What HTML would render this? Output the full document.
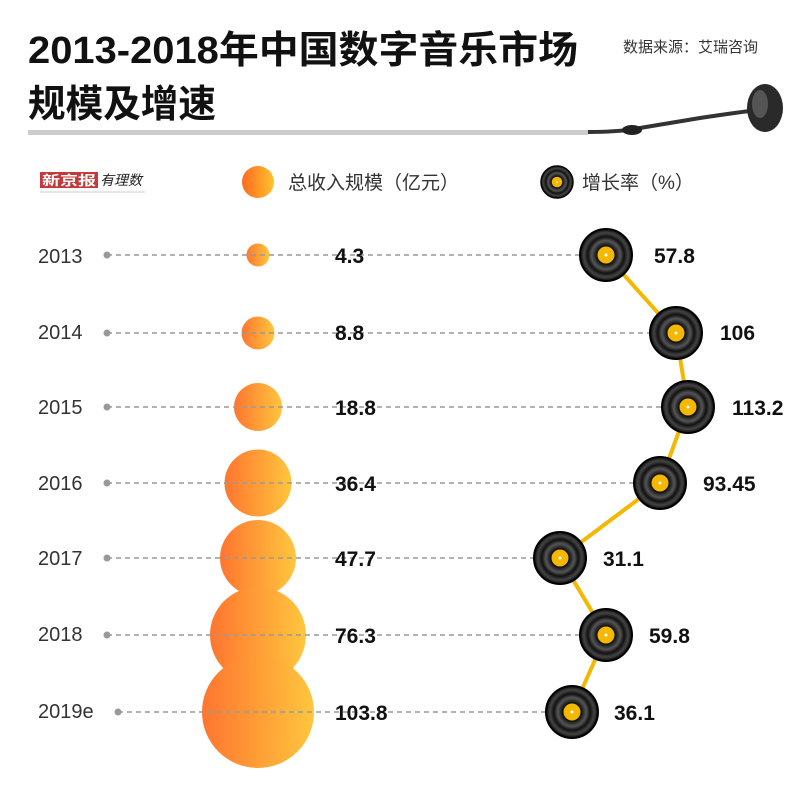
<!DOCTYPE html>
<html><head><meta charset="utf-8"><style>
body{margin:0;background:#fff;}
svg{display:block;font-family:"Liberation Sans","Noto Sans CJK SC",sans-serif;}
</style></head><body>
<svg width="800" height="786" viewBox="0 0 800 786" xmlns="http://www.w3.org/2000/svg">
<defs>
<linearGradient id="og" x1="0" x2="1" y1="0" y2="0">
<stop offset="0" stop-color="#ff6a1e"/><stop offset="1" stop-color="#ffc22e"/></linearGradient>
<radialGradient id="vinyl" cx="0.5" cy="0.5" r="0.5">
<stop offset="0.35" stop-color="#111"/><stop offset="0.55" stop-color="#555"/><stop offset="0.7" stop-color="#111"/><stop offset="0.85" stop-color="#444"/><stop offset="1" stop-color="#0a0a0a"/></radialGradient>
<g id="disc"><circle r="26" fill="url(#vinyl)"/><circle r="26" fill="none" stroke="#000" stroke-width="2"/><circle r="8.5" fill="#f5b800"/><circle r="1.5" fill="#fff"/></g>
</defs>
<text x="28" y="63" font-size="38" font-weight="bold" fill="#111" textLength="550" lengthAdjust="spacingAndGlyphs">2013-2018年中国数字音乐市场</text>
<text x="28" y="117" font-size="38" font-weight="bold" fill="#111" textLength="188" lengthAdjust="spacingAndGlyphs">规模及增速</text>
<text x="623" y="52" font-size="15" fill="#333">数据来源：艾瑞咨询</text>
<rect x="28" y="130" width="560" height="5" fill="#ccc"/>
<path d="M588 132 Q620 132 640 128 L700 118 Q740 112 758 110" stroke="#333" stroke-width="4" fill="none"/>
<ellipse cx="632" cy="130" rx="10" ry="5" fill="#222"/>
<ellipse cx="765" cy="108" rx="18" ry="24" fill="#2a2a2a"/>
<ellipse cx="760" cy="104" rx="8" ry="14" fill="#555"/>
<rect x="40" y="172" width="58" height="16" fill="#c23a3a"/>
<text x="42" y="185" font-size="13" fill="#fff" font-weight="bold" textLength="54" lengthAdjust="spacingAndGlyphs">新京报</text>
<text x="100" y="185" font-size="14" fill="#222" font-style="italic">有理数</text>
<line x1="40" y1="192" x2="145" y2="192" stroke="#ccc"/>
<circle cx="258" cy="182" r="16" fill="url(#og)"/>
<text x="288" y="189" font-size="19" fill="#333">总收入规模（亿元）</text>
<use href="#disc" transform="translate(557,182) scale(0.62)"/>
<text x="582" y="189" font-size="19" fill="#333">增长率（%）</text>
<g font-size="20" fill="#333">
<text x="38" y="263">2013</text><text x="38" y="339">2014</text><text x="38" y="414">2015</text><text x="38" y="490">2016</text><text x="38" y="565">2017</text><text x="38" y="641">2018</text><text x="38" y="718">2019e</text></g>
<g fill="url(#og)" opacity="0.92">
<circle cx="258" cy="255" r="11.5"/><circle cx="258" cy="333" r="16.5"/><circle cx="258" cy="407" r="24"/><circle cx="258" cy="483" r="33.5"/><circle cx="258" cy="558" r="38"/><circle cx="258" cy="635" r="48"/><circle cx="258" cy="712" r="56"/></g>
<g stroke="#999" stroke-width="1.5" stroke-dasharray="5,4">
<line x1="107" y1="255" x2="580" y2="255"/><line x1="107" y1="333" x2="652" y2="333"/><line x1="107" y1="407" x2="664" y2="407"/><line x1="107" y1="483" x2="636" y2="483"/><line x1="107" y1="558" x2="534" y2="558"/><line x1="107" y1="635" x2="580" y2="635"/><line x1="118" y1="712" x2="546" y2="712"/></g>
<g fill="#999"><circle cx="107" cy="255" r="3.5"/><circle cx="107" cy="333" r="3.5"/><circle cx="107" cy="407" r="3.5"/><circle cx="107" cy="483" r="3.5"/><circle cx="107" cy="558" r="3.5"/><circle cx="107" cy="635" r="3.5"/><circle cx="118" cy="712" r="3.5"/></g>
<g font-size="21" font-weight="bold" fill="#111">
<text x="335" y="263">4.3</text><text x="335" y="340">8.8</text><text x="335" y="415">18.8</text><text x="335" y="491">36.4</text><text x="335" y="566">47.7</text><text x="335" y="643">76.3</text><text x="335" y="720">103.8</text>
<text x="654" y="263">57.8</text><text x="720" y="340">106</text><text x="732" y="415">113.2</text><text x="703" y="491">93.45</text><text x="603" y="566">31.1</text><text x="649" y="643">59.8</text><text x="614" y="720">36.1</text></g>
<polyline points="606,255 676,333 688,407 660,483 560,558 606,635 572,712" fill="none" stroke="#f5b800" stroke-width="4"/>
<use href="#disc" transform="translate(606,255)"/><use href="#disc" transform="translate(676,333)"/><use href="#disc" transform="translate(688,407)"/><use href="#disc" transform="translate(660,483)"/><use href="#disc" transform="translate(560,558)"/><use href="#disc" transform="translate(606,635)"/><use href="#disc" transform="translate(572,712)"/>
</svg>
</body></html>
